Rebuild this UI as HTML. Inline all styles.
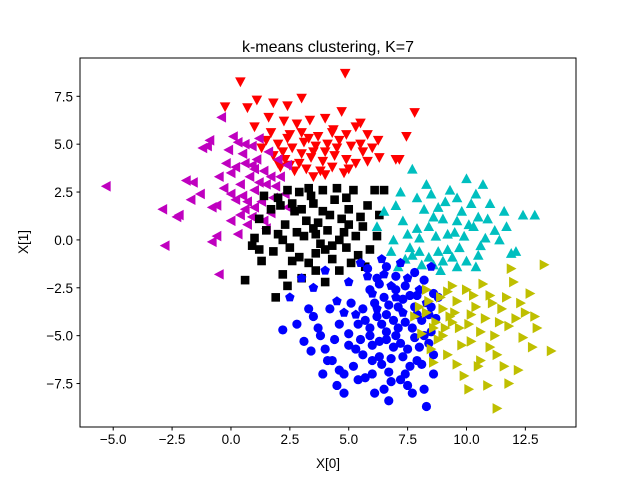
<!DOCTYPE html>
<html><head><meta charset="utf-8"><style>
body{margin:0;background:#fff}
svg{display:block;font-family:"Liberation Sans","DejaVu Sans",sans-serif}
</style></head><body>
<svg id="chart" width="640" height="480" viewBox="0 0 640 480">
<rect width="640" height="480" fill="#fff"/>
<text x="328" y="52" font-size="16" text-anchor="middle">k-means clustering, K=7</text>
<g id="marks"></g>
<rect x="80" y="58" width="496" height="369" fill="none" stroke="#000" stroke-width="1"/>
<g id="axes"></g>
<text x="328" y="468" font-size="13.5" text-anchor="middle">X[0]</text>
<text transform="translate(28,242) rotate(-90)" font-size="13.5" text-anchor="middle">X[1]</text>
</svg>
<script>
const xTicks=[-5,-2.5,0,2.5,5,7.5,10,12.5];
const yTicks=[-7.5,-5,-2.5,0,2.5,5,7.5];
const redPts=[[0.4,8.25],[4.85,8.7],[-0.25,6.95],[0.7,6.9],[1.8,7.15],[2.4,7.0],[3.0,7.4],[1.1,7.3],[7.8,6.65],[7.45,5.4],[6.25,5.2],[5.5,6.1],[5.3,5.9],[4.7,6.7],[6.0,4.8],[7.0,4.2],[7.15,4.2],[1.6,6.4],[2.25,6.2],[2.8,6.05],[3.35,6.25],[4.0,6.35],[4.35,5.75],[2.5,5.5],[1.5,5.2],[2.0,5.0],[2.6,4.8],[3.1,5.1],[3.6,4.9],[4.1,5.0],[4.6,5.2],[5.1,4.9],[5.6,4.6],[1.8,4.4],[2.3,4.2],[2.9,4.0],[3.4,4.3],[3.9,4.1],[4.4,4.4],[4.9,4.2],[5.3,4.0],[2.1,3.8],[2.7,3.6],[3.2,3.7],[3.8,3.6],[4.3,3.8],[4.8,3.5],[1.3,4.8],[3.0,5.6],[3.7,5.4],[4.3,5.6],[5.8,5.5],[2.2,4.6],[5.0,3.7],[1.0,5.9],[6.3,4.3],[3.5,3.3],[4.0,3.4],[2.0,4.0],[2.5,3.9],[3.0,4.5],[3.5,4.6],[4.0,4.6],[4.5,4.8],[5.5,5.0],[3.3,5.3],[2.4,5.3],[1.7,5.6],[4.9,5.5],[5.8,4.1]];
const magentaPts=[[-5.3,2.8],[-2.9,1.6],[-2.8,-0.3],[-2.2,1.3],[-2.3,1.2],[-1.9,3.1],[-1.6,3.0],[-1.7,2.1],[-1.2,4.8],[-1.0,4.9],[-0.9,5.2],[-0.4,6.4],[-0.8,-0.1],[-0.6,0.2],[-0.5,-1.8],[-0.8,1.7],[-0.6,1.8],[-0.3,2.7],[0.0,3.5],[0.1,5.4],[0.3,5.1],[0.5,4.5],[0.6,4.0],[0.8,3.3],[0.4,2.9],[0.2,2.1],[0.6,1.6],[0.9,1.2],[0.3,0.3],[0.7,0.8],[1.0,2.6],[1.2,3.0],[1.4,3.6],[1.1,4.2],[1.6,4.6],[1.3,2.0],[1.7,1.4],[1.9,2.8],[2.1,3.3],[2.3,2.4],[1.5,0.6],[0.0,1.0],[-0.2,4.0],[0.9,4.9],[2.4,3.9],[1.8,2.2],[0.5,2.3],[-1.3,2.4],[0.2,3.8],[1.0,3.7],[0.7,2.0],[1.5,2.9],[0.0,2.4],[0.4,1.3],[1.0,1.7],[1.4,1.0],[0.9,3.9],[1.7,3.3],[2.0,4.2],[-0.5,3.3],[-0.1,4.7],[0.6,5.0],[1.2,5.3],[2.4,1.7]];
const blackPts=[[0.6,-2.1],[1.9,-3.0],[2.2,-1.8],[1.3,-1.1],[0.9,-0.3],[1.5,0.5],[1.2,1.1],[1.7,1.6],[2.0,2.2],[2.3,0.8],[2.5,-0.4],[2.7,1.5],[2.9,2.5],[3.1,0.2],[3.3,-1.2],[3.5,1.9],[3.7,0.9],[3.9,2.6],[4.0,-0.5],[4.2,1.3],[4.4,2.1],[4.6,-1.6],[4.8,0.4],[5.0,1.6],[5.2,2.6],[5.4,-0.8],[5.6,0.7],[5.8,1.8],[6.1,2.6],[6.5,2.6],[6.2,0.2],[5.9,-0.5],[3.0,-2.0],[2.6,-1.1],[3.6,-1.6],[4.3,-1.0],[1.0,0.1],[1.8,-0.6],[2.1,1.8],[3.2,1.0],[4.1,0.5],[4.7,1.1],[3.4,2.3],[2.4,2.6],[1.4,2.3],[5.3,0.2],[3.8,-0.2],[2.8,0.4],[4.5,2.7],[5.7,-1.4],[3.0,1.6],[3.6,0.3],[2.2,0.0],[4.9,-0.4],[2.0,0.3],[2.6,1.9],[3.3,2.7],[3.9,1.5],[4.6,0.0],[5.1,-1.2],[4.0,-2.2],[2.9,-0.9],[3.6,-0.7],[4.9,2.2],[5.5,1.2],[6.3,1.3],[1.2,-0.5],[3.5,0.6],[4.3,-0.3],[2.4,-2.4],[5.0,0.8]];
const cyanPts=[[7.7,3.7],[7.2,2.5],[7.9,2.2],[8.5,2.4],[9.3,2.6],[10.0,3.2],[10.4,2.4],[11.0,1.9],[12.4,1.3],[12.9,1.3],[11.7,0.7],[11.9,-0.7],[12.1,-0.6],[11.4,0.0],[10.8,0.1],[6.2,0.7],[6.5,1.5],[6.9,0.0],[7.3,1.0],[7.6,-0.4],[7.9,0.6],[8.2,1.6],[8.4,-0.9],[8.7,0.2],[9.0,1.1],[9.2,-0.5],[9.5,0.4],[9.8,1.5],[10.0,-1.1],[10.3,0.7],[10.6,-0.3],[9.6,-1.4],[8.9,-1.6],[8.1,-1.3],[7.4,-1.0],[6.8,-0.6],[9.1,2.0],[8.0,0.1],[10.9,1.1],[10.2,1.9],[8.6,1.2],[9.9,0.2],[8.8,-0.6],[9.4,-0.9],[7.7,-0.8],[10.5,-0.8],[7.0,1.8],[7.5,0.3],[8.0,-0.6],[8.4,0.7],[8.8,1.7],[9.2,0.3],[9.6,1.0],[10.1,0.8],[10.5,1.2],[11.2,0.5],[9.0,-1.1],[8.6,-1.3],[9.7,-0.4],[10.4,-1.4],[7.1,-1.4],[11.6,1.5],[8.3,2.9],[9.6,2.2],[10.7,2.9]];
const bluePentPts=[[2.5,-3.0],[3.0,-2.0],[3.5,-2.5],[4.0,-1.6],[4.5,-3.2],[5.0,-2.2],[5.5,-1.2],[6.0,-2.8],[6.5,-1.8],[7.0,-3.0],[7.5,-2.0],[8.0,-2.6],[8.5,-1.4],[6.2,-3.6],[5.3,-3.9],[7.3,-3.8],[8.3,-3.3],[4.8,-3.8],[6.8,-2.4],[5.8,-1.9],[7.2,-1.2],[6.4,-1.0]];
const blueCircPts=[[2.2,-4.7],[2.8,-4.4],[3.1,-5.3],[3.5,-4.0],[3.7,-4.6],[4.0,-5.7],[4.3,-6.3],[4.1,-6.3],[4.6,-6.8],[4.8,-8.0],[5.0,-4.9],[5.3,-5.7],[5.1,-3.3],[5.6,-6.0],[5.9,-4.6],[6.0,-7.0],[6.3,-5.3],[6.6,-3.9],[6.7,-8.4],[6.8,-6.2],[7.0,-5.0],[7.2,-7.3],[7.4,-4.3],[7.6,-6.6],[7.8,-3.5],[8.0,-5.6],[8.2,-7.8],[8.3,-8.7],[8.5,-4.8],[8.6,-6.0],[5.7,-7.2],[6.4,-6.5],[7.5,-5.7],[4.4,-5.2],[5.4,-4.4],[6.9,-4.2],[8.1,-4.2],[3.3,-3.6],[7.9,-2.9],[6.1,-8.0],[4.8,-7.0],[6.2,-4.0],[6.6,-4.8],[7.1,-3.5],[7.7,-4.6],[8.2,-5.0],[6.0,-5.5],[6.9,-5.6],[7.3,-6.1],[5.6,-3.6],[6.5,-3.0],[7.0,-2.6],[7.6,-2.9],[8.4,-3.9],[6.3,-6.1],[7.9,-6.3],[5.2,-6.6],[7.4,-7.0],[6.8,-7.4],[5.9,-2.6],[5.8,-1.5],[6.2,-2.0],[6.6,-1.4],[7.0,-1.9],[7.4,-2.4],[7.8,-1.7],[8.2,-2.1],[8.6,-2.8],[6.1,-3.3],[6.7,-3.4],[7.3,-3.1],[7.9,-3.9],[8.5,-3.5],[5.7,-4.2],[6.4,-4.4],[7.1,-4.6],[7.8,-5.1],[8.4,-5.4],[5.9,-5.0],[6.6,-5.2],[7.2,-5.4],[8.1,-6.5],[5.5,-5.2],[6.0,-6.3],[6.7,-6.9],[7.5,-7.6],[5.0,-5.5],[4.6,-4.4],[4.2,-3.6],[3.8,-5.0],[3.4,-5.8],[3.9,-7.0],[4.5,-7.6],[5.4,-7.3],[6.5,-7.8],[7.7,-8.0],[8.6,-7.0],[8.7,-4.1],[8.8,-3.0],[6.3,-2.3]];
const yellowPts=[[7.8,-4.0],[8.1,-4.9],[8.4,-3.2],[8.5,-5.7],[8.7,-4.3],[8.9,-3.0],[9.0,-5.0],[9.2,-6.0],[9.4,-2.4],[9.5,-3.8],[9.7,-4.6],[9.9,-7.1],[10.0,-2.6],[10.2,-5.3],[10.4,-3.5],[10.6,-6.3],[10.8,-4.1],[11.0,-2.9],[11.2,-5.0],[11.3,-8.8],[11.5,-3.6],[11.6,-6.6],[11.8,-4.5],[12.0,-2.2],[12.3,-3.3],[12.5,-3.8],[12.8,-5.6],[13.0,-4.6],[13.6,-5.8],[13.3,-1.3],[12.7,-2.8],[11.9,-1.5],[10.9,-7.6],[10.5,-6.6],[9.3,-4.0],[10.1,-4.4],[11.1,-3.3],[12.2,-6.8],[8.3,-3.8],[8.8,-5.2],[9.6,-3.2],[10.3,-2.9],[9.1,-4.6],[8.0,-3.5],[8.6,-4.6],[9.0,-3.6],[9.4,-4.3],[9.8,-5.5],[10.2,-3.9],[10.6,-4.8],[11.0,-5.6],[11.4,-4.3],[11.7,-3.0],[12.1,-4.1],[12.4,-5.1],[9.6,-6.5],[10.1,-7.8],[11.8,-7.5],[8.6,-6.4],[9.2,-2.7],[10.7,-2.3],[11.3,-6.0],[12.9,-4.0],[8.3,-2.6]];

const X0=80,X1=576,Y0=58,Y1=427,xMin=-6.41,xMax=14.65,yMin=-9.77,yMax=9.5;
function sx(v){return X0+(v-xMin)/(xMax-xMin)*(X1-X0);}
function sy(v){return Y1-(v-yMin)/(yMax-yMin)*(Y1-Y0);}
const NS="http://www.w3.org/2000/svg";
const marks=document.getElementById('marks'),axes=document.getElementById('axes');
function tri(cx,cy,r,dir){
  let p;
  if(dir==='down')p=[[cx-r,cy-r*0.85],[cx+r,cy-r*0.85],[cx,cy+r]];
  else if(dir==='up')p=[[cx-r,cy+r*0.85],[cx+r,cy+r*0.85],[cx,cy-r]];
  else if(dir==='left')p=[[cx+r*0.85,cy-r],[cx+r*0.85,cy+r],[cx-r,cy]];
  else p=[[cx-r*0.85,cy-r],[cx-r*0.85,cy+r],[cx+r,cy]];
  return p.map(a=>a.join(',')).join(' ');
}
function pent(cx,cy,r){let s=[];for(let i=0;i<5;i++){const a=-Math.PI/2+i*2*Math.PI/5;s.push((cx+r*Math.cos(a))+','+(cy+r*Math.sin(a)));}return s.join(' ');}
function draw(pts,color,kind,name){
  const g=document.createElementNS(NS,'g');
  
  
  g.setAttribute('fill',color);
  pts.forEach(p=>{
    const cx=sx(p[0]),cy=sy(p[1]);let el;
    if(kind==='circle'){el=document.createElementNS(NS,'circle');el.setAttribute('cx',cx);el.setAttribute('cy',cy);el.setAttribute('r',4.6);}
    else if(kind==='square'){el=document.createElementNS(NS,'rect');el.setAttribute('x',cx-4.3);el.setAttribute('y',cy-4.3);el.setAttribute('width',8.6);el.setAttribute('height',8.6);}
    else if(kind==='pent'){el=document.createElementNS(NS,'polygon');el.setAttribute('points',pent(cx,cy,5));}
    else{el=document.createElementNS(NS,'polygon');el.setAttribute('points',tri(cx,cy,5.3,kind));}
    
    
    g.appendChild(el);
  });
  marks.appendChild(g);
}
draw(redPts,'#ff0000','down','cluster-red');
draw(magentaPts,'#bf00bf','left','cluster-magenta');
draw(blackPts,'#000000','square','cluster-black');
draw(cyanPts,'#00bfbf','up','cluster-cyan');
draw(bluePentPts,'#0000ff','pent','cluster-blue-pentagon');
draw(blueCircPts,'#0000ff','circle','cluster-blue-circle');
draw(yellowPts,'#bfbf00','right','cluster-yellow');
function fmt(v){return (v<0?'\u2212':'')+Math.abs(v).toFixed(1);}
xTicks.forEach(v=>{
  const x=sx(v);
  const l=document.createElementNS(NS,'line');
  l.setAttribute('x1',x);l.setAttribute('x2',x);l.setAttribute('y1',Y1);l.setAttribute('y2',Y1+3.5);l.setAttribute('stroke','#000');
  
  
  axes.appendChild(l);
  const t=document.createElementNS(NS,'text');
  t.setAttribute('x',x);t.setAttribute('y',Y1+17);t.setAttribute('font-size','13.5');t.setAttribute('text-anchor','middle');
  t.textContent=fmt(v);
  
  
  axes.appendChild(t);
});
yTicks.forEach(v=>{
  const y=sy(v);
  const l=document.createElementNS(NS,'line');
  l.setAttribute('x1',X0-3.5);l.setAttribute('x2',X0);l.setAttribute('y1',y);l.setAttribute('y2',y);l.setAttribute('stroke','#000');
  
  
  axes.appendChild(l);
  const t=document.createElementNS(NS,'text');
  t.setAttribute('x',X0-7);t.setAttribute('y',y+5);t.setAttribute('font-size','13.5');t.setAttribute('text-anchor','end');
  t.textContent=fmt(v);
  
  
  axes.appendChild(t);
});
</script>
</body></html>
